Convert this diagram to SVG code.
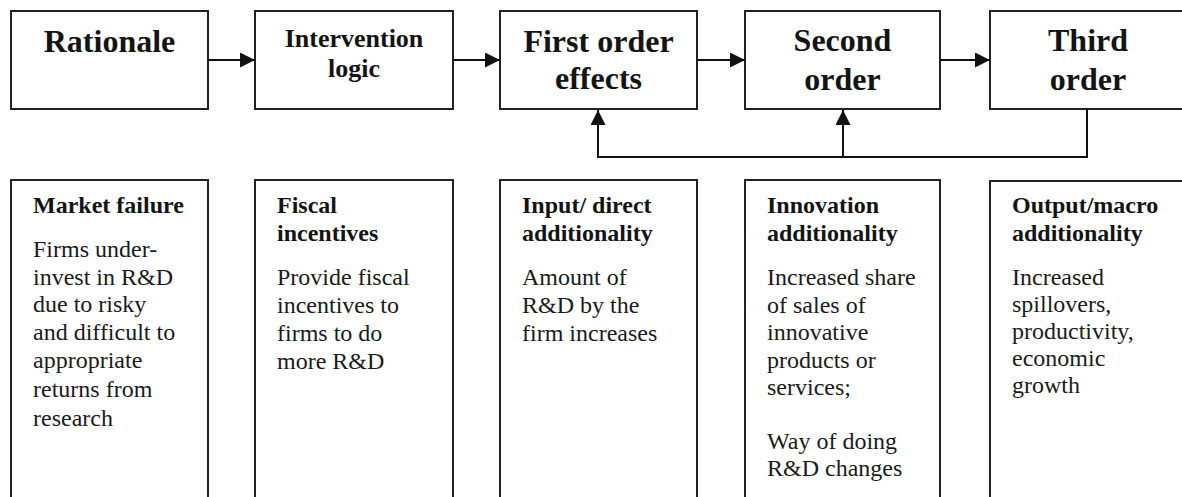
<svg xmlns="http://www.w3.org/2000/svg" width="1182" height="497" viewBox="0 0 1182 497">
  <style>
    .box { fill: #ffffff; stroke: #222222; stroke-width: 2; }
    .head { font-family: "Liberation Serif", "Times New Roman", serif; font-weight: bold; font-size: 32px; fill: #141414; text-anchor: middle; }
    .head2 { font-family: "Liberation Serif", "Times New Roman", serif; font-weight: bold; font-size: 26px; fill: #141414; text-anchor: middle; }
    .title { font-family: "Liberation Serif", "Times New Roman", serif; font-weight: bold; font-size: 24px; fill: #141414; }
    .body { font-family: "Liberation Serif", "Times New Roman", serif; font-size: 24px; fill: #1a1a1a; }
    .conn { fill: none; stroke: #111111; stroke-width: 2; }
  </style>
  <defs>
    <marker id="arrow" markerUnits="userSpaceOnUse" markerWidth="15" markerHeight="15" refX="15" refY="7.5" orient="auto">
      <path d="M0,0 L15,7.5 L0,15 Z" fill="#111111"/>
    </marker>
  </defs>
  <rect x="0" y="0" width="1182" height="497" fill="#ffffff"/>

  <g id="rationale">
    <rect class="box" x="11" y="11" width="197" height="98"/>
    <text class="head" x="109.5" y="52">Rationale</text>
  </g>
  <g id="intervention-logic">
    <rect class="box" x="255" y="11" width="198" height="98"/>
    <text class="head2" x="354" y="47">Intervention</text>
    <text class="head2" x="354" y="77">logic</text>
  </g>
  <g id="first-order">
    <rect class="box" x="500" y="11" width="197" height="98"/>
    <text class="head" x="598.5" y="52">First order</text>
    <text class="head" x="598.5" y="89">effects</text>
  </g>
  <g id="second-order">
    <rect class="box" x="745" y="11" width="195" height="98"/>
    <text class="head" x="842.5" y="51">Second</text>
    <text class="head" x="842.5" y="90">order</text>
  </g>
  <g id="third-order">
    <rect class="box" x="990" y="11" width="210" height="98"/>
    <text class="head" x="1088" y="51">Third</text>
    <text class="head" x="1088" y="90">order</text>
  </g>

  <g id="market-failure">
    <rect class="box" x="11" y="180" width="197" height="340"/>
    <text class="title" x="33" y="213">Market failure</text>
    <text class="body" x="33" y="257">Firms under-</text>
    <text class="body" x="33" y="285">invest in R&amp;D</text>
    <text class="body" x="33" y="312">due to risky</text>
    <text class="body" x="33" y="340">and difficult to</text>
    <text class="body" x="33" y="368">appropriate</text>
    <text class="body" x="33" y="397">returns from</text>
    <text class="body" x="33" y="426">research</text>
  </g>
  <g id="fiscal-incentives">
    <rect class="box" x="255" y="180" width="198" height="340"/>
    <text class="title" x="277" y="213">Fiscal</text>
    <text class="title" x="277" y="241">incentives</text>
    <text class="body" x="277" y="285">Provide fiscal</text>
    <text class="body" x="277" y="313">incentives to</text>
    <text class="body" x="277" y="341">firms to do</text>
    <text class="body" x="277" y="369">more R&amp;D</text>
  </g>
  <g id="input-additionality">
    <rect class="box" x="500" y="180" width="197" height="340"/>
    <text class="title" x="522" y="213">Input/ direct</text>
    <text class="title" x="522" y="241">additionality</text>
    <text class="body" x="522" y="285">Amount of</text>
    <text class="body" x="522" y="313">R&amp;D by the</text>
    <text class="body" x="522" y="341">firm increases</text>
  </g>
  <g id="innovation-additionality">
    <rect class="box" x="745" y="180" width="195" height="340"/>
    <text class="title" x="767" y="213">Innovation</text>
    <text class="title" x="767" y="241">additionality</text>
    <text class="body" x="767" y="285">Increased share</text>
    <text class="body" x="767" y="313">of sales of</text>
    <text class="body" x="767" y="340">innovative</text>
    <text class="body" x="767" y="368">products or</text>
    <text class="body" x="767" y="395">services;</text>
    <text class="body" x="767" y="449">Way of doing</text>
    <text class="body" x="767" y="476">R&amp;D changes</text>
  </g>
  <g id="output-additionality">
    <rect class="box" x="990" y="181" width="210" height="340"/>
    <text class="title" x="1012" y="213">Output/macro</text>
    <text class="title" x="1012" y="241">additionality</text>
    <text class="body" x="1012" y="285">Increased</text>
    <text class="body" x="1012" y="312">spillovers,</text>
    <text class="body" x="1012" y="339">productivity,</text>
    <text class="body" x="1012" y="366">economic</text>
    <text class="body" x="1012" y="393">growth</text>
  </g>

  <g id="connectors">
    <line class="conn" x1="208" y1="60" x2="255" y2="60" marker-end="url(#arrow)"/>
    <line class="conn" x1="453" y1="60" x2="500" y2="60" marker-end="url(#arrow)"/>
    <line class="conn" x1="697" y1="60" x2="745" y2="60" marker-end="url(#arrow)"/>
    <line class="conn" x1="940" y1="60" x2="990" y2="60" marker-end="url(#arrow)"/>
    <path class="conn" d="M1087,109 L1087,157 L598,157 L598,110" marker-end="url(#arrow)"/>
    <line class="conn" x1="843" y1="157" x2="843" y2="110" marker-end="url(#arrow)"/>
  </g>
</svg>
